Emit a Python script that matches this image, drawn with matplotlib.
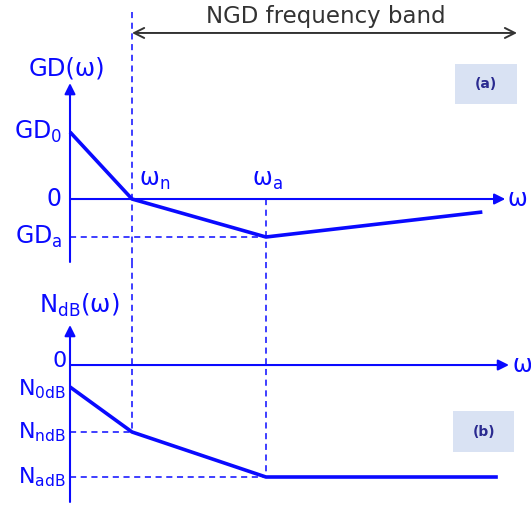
import matplotlib.pyplot as plt
from matplotlib.patches import Rectangle

# schematic NGD response, omega in units of omega_n
BLUE = "#0a0aff"
GREY = "#333333"

omega_a_pts = [0.0, 1.0, 3.16, 6.65]
gd_vals = [1.0, 0.0, -0.567, -0.194]
gd_ticks = [1.0, 0.0, -0.567]
gd_labels = ["GD$_\\mathregular{0}$", "0", "GD$_\\mathregular{a}$"]

omega_b_pts = [0.0, 1.0, 3.16, 6.9]
n_vals = [-0.196, -0.598, -1.0, -1.0]
n_ticks = [0.0, -0.196, -0.598, -1.0]
n_labels = ["0", "N$_\\mathregular{0dB}$", "N$_\\mathregular{ndB}$", "N$_\\mathregular{adB}$"]

omega_n = omega_a_pts[1]
omega_a = omega_a_pts[2]

plt.rcParams["font.family"] = ["DejaVu Sans"]
plt.rcParams["mathtext.default"] = "regular"

fig = plt.figure(figsize=(5.31, 5.05), dpi=100)
ax1 = fig.add_axes([0, 0.4812, 1, 0.5188])
ax2 = fig.add_axes([0, 0, 1, 0.4812])
for ax in (ax1, ax2):
    ax.set_xlim(-1.129, 7.435)
    ax.axis("off")
ax1.set_ylim(-0.94, 2.97)
ax2.set_ylim(-1.25, 0.92)

dash = dict(color=BLUE, lw=1.1, ls=(0, (4, 3)))
arrow = dict(arrowstyle="-|>", color=BLUE, lw=1.5, mutation_scale=16,
             shrinkA=0, shrinkB=0)

# ---- (a) group delay ----
ax1.annotate("", xy=(0, 1.73), xytext=(0, -0.94), arrowprops=arrow)
ax1.annotate("", xy=(7.02, 0), xytext=(0, 0), arrowprops=arrow)
ax1.plot(omega_a_pts, gd_vals, color=BLUE, lw=2.6, solid_capstyle="butt")
ax1.plot([omega_n, omega_n], [2.79, -0.94], **dash)
ax1.plot([omega_a, omega_a], [0, -0.94], **dash)
ax1.plot([0, omega_a], [gd_ticks[2]] * 2, **dash)

for v, lab in zip(gd_ticks, gd_labels):
    ax1.text(-0.13, v, lab, color=BLUE, fontsize=17, ha="right", va="center")
ax1.text(-0.05, 1.95, "GD(ω)", color=BLUE, fontsize=17.5, ha="center", va="center")
ax1.text(1.12, 0.28, "ω$_\\mathregular{n}$", color=BLUE, fontsize=17, ha="left", va="center")
ax1.text(2.94, 0.28, "ω$_\\mathregular{a}$", color=BLUE, fontsize=17, ha="left", va="center")
ax1.text(7.06, 0, "ω", color=BLUE, fontsize=17, ha="left", va="center")

ax1.annotate("", xy=(7.21, 2.478), xytext=(omega_n, 2.478),
             arrowprops=dict(arrowstyle="<->", color=GREY, lw=1.4,
                             mutation_scale=18, shrinkA=0, shrinkB=0))
ax1.text(4.13, 2.73, "NGD frequency band", color=GREY, fontsize=16.5,
         ha="center", va="center")

ax1.add_patch(Rectangle((6.21, 1.418), 1.0, 0.597, color="#d9e2f3", lw=0))
ax1.text(6.71, 1.716, "(a)", color="#2a2a90", fontsize=10, fontweight="bold",
         ha="center", va="center")

# ---- (b) noise ----
ax2.annotate("", xy=(0, 0.357), xytext=(0, -1.223), arrowprops=arrow)
ax2.annotate("", xy=(7.08, 0), xytext=(0, 0), arrowprops=arrow)
ax2.plot(omega_b_pts, n_vals, color=BLUE, lw=2.6, solid_capstyle="butt")
ax2.plot([omega_n, omega_n], [0.92, n_vals[1]], **dash)
ax2.plot([omega_a, omega_a], [0.92, n_vals[2]], **dash)
ax2.plot([0, omega_n], [n_vals[1]] * 2, **dash)
ax2.plot([0, omega_a], [n_vals[2]] * 2, **dash)

# small vertical nudges keep "0" and N0dB apart, as in the original
nudge = [0.04, -0.02, 0.0, 0.0]
for v, lab, dy in zip(n_ticks, n_labels, nudge):
    ax2.text(-0.06, v + dy, lab, color=BLUE, fontsize=16, ha="right", va="center")
ax2.text(0.15, 0.536, "N$_\\mathregular{dB}$(ω)", color=BLUE, fontsize=17.5,
         ha="center", va="center")
ax2.text(7.13, 0, "ω", color=BLUE, fontsize=17, ha="left", va="center")

ax2.add_patch(Rectangle((6.18, -0.777), 0.984, 0.366, color="#d9e2f3", lw=0))
ax2.text(6.67, -0.594, "(b)", color="#2a2a90", fontsize=10, fontweight="bold",
         ha="center", va="center")

fig.savefig("out.png", dpi=100)
